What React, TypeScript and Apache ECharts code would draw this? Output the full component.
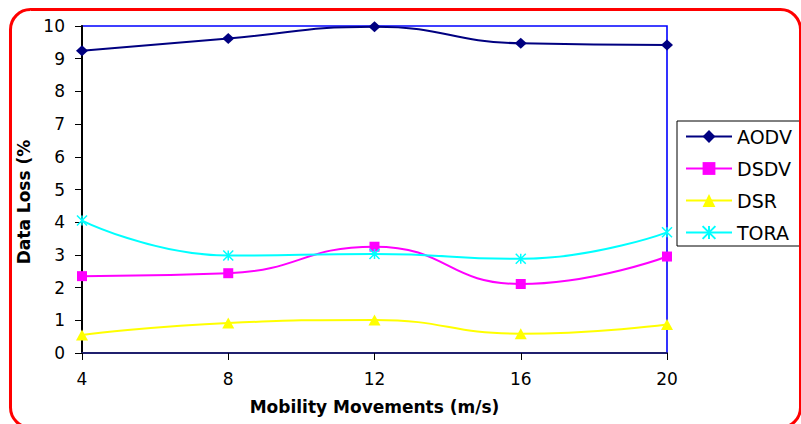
import React, { useEffect, useRef } from "react";
import * as echarts from "echarts";

const xValues = [4, 8, 12, 16, 20];
const aodv = [9.24, 9.62, 9.98, 9.47, 9.42];
const dsdv = [2.35, 2.44, 3.25, 2.11, 2.95];
const dsr = [0.55, 0.92, 1.01, 0.59, 0.87];
const tora = [4.05, 2.98, 3.03, 2.88, 3.69];
const seriesNames = ["AODV", "DSDV", "DSR", "TORA"];

const FONT = "DejaVu Sans";
const starPath = "path://M0,0L10,10M10,0L0,10M5,0L5,10";

function pairs(values: number[]) {
  return xValues.map((x, i) => [x, values[i]]);
}

export default function App() {
  const ref = useRef<HTMLDivElement>(null);
  useEffect(() => {
    if (!ref.current) return;
    const chart = echarts.init(ref.current, undefined, { renderer: "svg" });
    const mk = (
      name: string,
      values: number[],
      color: string,
      symbol: string,
      size: number | number[],
      extra: any = {}
    ) => ({
      name,
      type: "line",
      data: pairs(values),
      smooth: 0.5,
      symbol,
      symbolSize: size,
      lineStyle: { color, width: 2 },
      itemStyle: { color, borderWidth: 0, ...extra },
      z: 3,
    });
    chart.setOption({
      animation: false,
      backgroundColor: "#ffffff",
      grid: {
        left: 82,
        right: 134,
        top: 26,
        bottom: 71,
        show: true,
        borderColor: "#0000ff",
        borderWidth: 1.6,
        backgroundColor: "transparent",
      },
      legend: {
        data: seriesNames,
        orient: "vertical",
        left: 677,
        top: 121,
        padding: [6, 60, 4, 8],
        itemGap: 13,
        itemWidth: 46,
        itemHeight: 16,
        borderColor: "#000000",
        borderWidth: 1,
        backgroundColor: "#ffffff",
        textStyle: { fontFamily: FONT, fontSize: 19, color: "#000000" },
      },
      xAxis: {
        type: "value",
        min: 4,
        max: 20,
        interval: 4,
        name: "Mobility Movements (m/s)",
        nameLocation: "middle",
        nameGap: 45,
        nameTextStyle: { fontFamily: FONT, fontSize: 17, fontWeight: "bold", color: "#000" },
        axisLine: { show: true, onZero: false, lineStyle: { color: "#20206e", width: 2 } },
        axisTick: { show: true, inside: false, length: 7, lineStyle: { color: "#000", width: 1 } },
        axisLabel: { fontFamily: FONT, fontSize: 17, color: "#000", margin: 17 },
        splitLine: { show: false },
      },
      yAxis: {
        type: "value",
        min: 0,
        max: 10,
        interval: 1,
        axisLine: { show: true, lineStyle: { color: "#000000", width: 2 } },
        axisTick: { show: true, length: 7, lineStyle: { color: "#000", width: 1 } },
        axisLabel: { fontFamily: FONT, fontSize: 17, color: "#000", margin: 17 },
        splitLine: { show: false },
      },
      graphic: [
        {
          type: "text",
          x: 24,
          y: 202,
          rotation: Math.PI / 2,
          style: {
            text: "Data Loss (%",
            fontFamily: FONT,
            fontSize: 17,
            fontWeight: "bold",
            fill: "#000",
            align: "center",
            verticalAlign: "middle",
          },
        },
        {
          type: "rect",
          shape: { x: 10.5, y: 9.5, width: 790, height: 418, r: 20 },
          style: { fill: "none", stroke: "#ff0000", lineWidth: 3 },
          z: 100,
        },
      ],
      series: [
        mk("AODV", aodv, "#000080", "diamond", [12, 11]),
        mk("DSDV", dsdv, "#ff00ff", "rect", 10),
        mk("DSR", dsr, "#ffff00", "triangle", [12, 11]),
        mk("TORA", tora, "#00ffff", starPath, 10, { borderColor: "#00ffff", borderWidth: 1.5 }),
      ],
    });
    return () => chart.dispose();
  }, []);
  return (
    <div
      ref={ref}
      style={{ position: "fixed", left: 0, top: 0, width: 801, height: 424, background: "#fff" }}
    />
  );
}
